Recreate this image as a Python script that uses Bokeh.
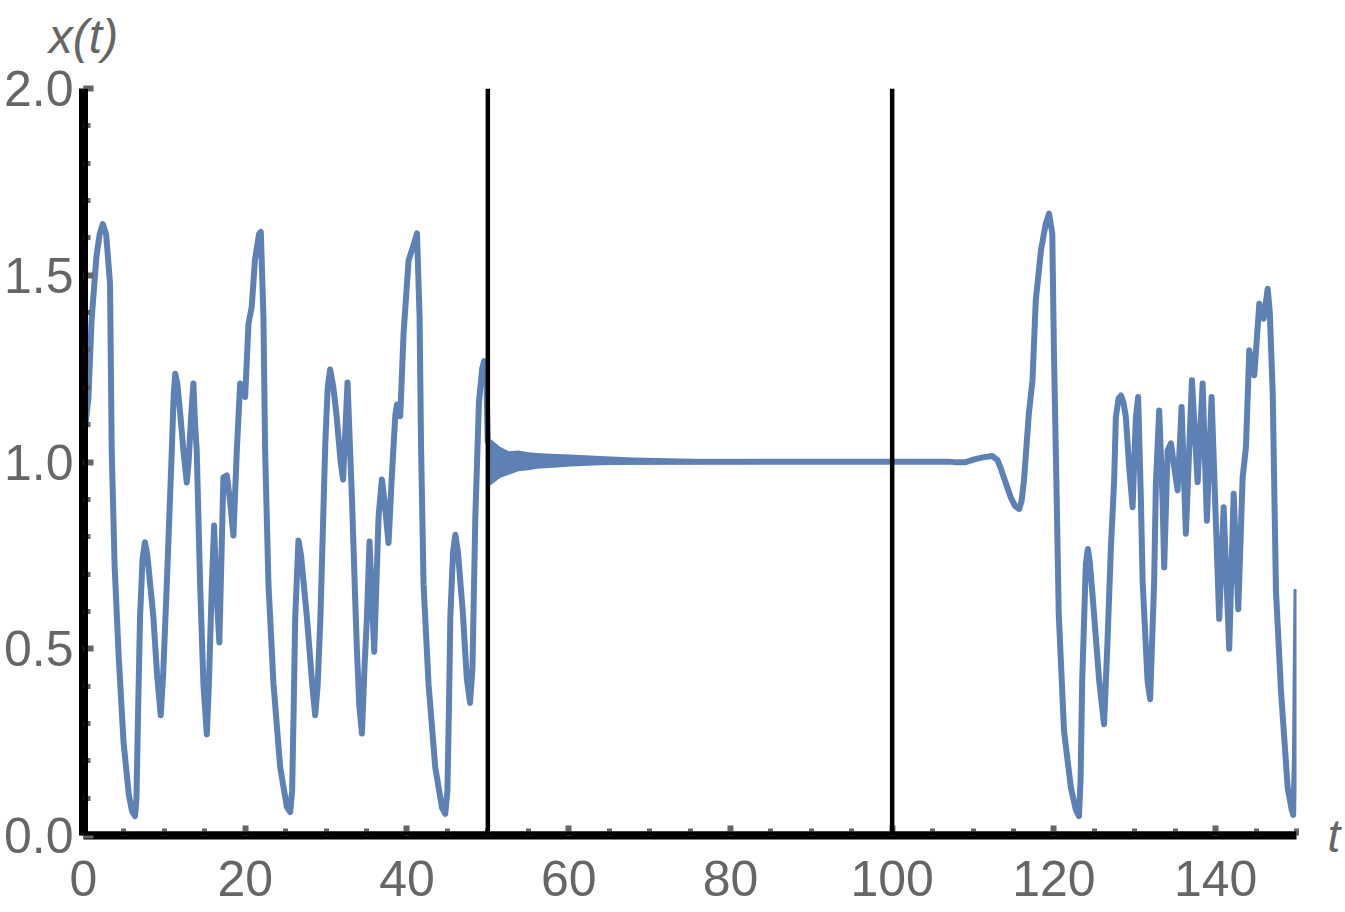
from bokeh.plotting import figure
from bokeh.models import (Range1d, Span, SingleIntervalTicker, FixedTicker, LinearAxis,
                          PrintfTickFormatter)
from bokeh.embed import file_html
from bokeh.resources import INLINE

# ---- data ----
# chaotic regime before the control is switched on (t = 0 .. 50)
t_before = [0.0, 0.6, 1.0, 1.6, 2.0, 2.38, 2.8, 3.28, 3.49, 3.85, 4.35, 4.95, 5.6, 6.0, 6.37,
            6.55, 6.75, 6.99, 7.3, 7.6, 7.9, 8.64, 9.1, 9.55, 9.85, 10.3, 10.92, 11.15, 11.35,
            11.6, 12.0, 12.35, 12.77, 13.0, 13.3, 13.59, 13.8, 14.0, 14.42, 14.83, 15.25,
            15.5, 15.87, 16.15, 16.45, 16.8, 17.3, 17.72, 18.1, 18.54, 18.96, 19.37, 19.99,
            20.4, 20.8, 21.2, 21.7, 21.93, 22.25, 22.46, 22.87, 23.49, 24.32, 25.15, 25.56,
            25.8, 26.0, 26.18, 26.58, 26.9, 27.62, 28.3, 28.65, 28.95, 29.3, 29.9, 30.2,
            30.5, 30.9, 31.3, 31.8, 32.1, 32.65, 33.2, 33.6, 33.81, 34.1, 34.43, 34.75,
            35.05, 35.37, 35.95, 36.49, 36.9, 37.2, 37.72, 38.1, 38.55, 38.76, 39.17, 39.58,
            40.2, 40.74, 41.24, 41.56, 41.75, 42.05, 42.67, 43.5, 44.33, 44.74, 45.0, 45.2,
            45.36, 45.7, 45.98, 46.3, 46.9, 47.4, 47.8, 48.1, 48.45, 48.9, 49.3, 49.55,
            49.8, 50.0]
x_before = [1.05, 1.17, 1.38, 1.55, 1.61, 1.637, 1.61, 1.478, 1.031, 0.72, 0.48, 0.25, 0.11, 0.065, 0.052,
            0.1, 0.33, 0.583, 0.74, 0.785, 0.75, 0.585, 0.43, 0.322, 0.43, 0.673, 1.031, 1.18, 1.236,
            1.21, 1.12, 1.031, 0.945, 1.0, 1.12, 1.21, 1.1, 1.031, 0.673, 0.405, 0.271,
            0.4, 0.673, 0.83, 0.65, 0.517, 0.959, 0.964, 0.9, 0.803, 1.031, 1.21, 1.174,
            1.37, 1.415, 1.54, 1.61, 1.616, 1.388, 1.031, 0.674, 0.407, 0.183, 0.076, 0.063,
            0.12, 0.35, 0.584, 0.79, 0.75, 0.586, 0.4, 0.322, 0.4, 0.586, 1.05, 1.2,
            1.248, 1.2, 1.123, 1.0, 0.953, 1.213, 0.9, 0.631, 0.497, 0.35, 0.273, 0.45,
            0.586, 0.787, 0.492, 0.855, 0.953, 0.9, 0.783, 0.95, 1.123, 1.154, 1.123, 1.344,
            1.54, 1.576, 1.612, 1.388, 1.031, 0.673, 0.405, 0.182, 0.075, 0.058, 0.12, 0.35,
            0.584, 0.76, 0.805, 0.76, 0.6, 0.42, 0.355, 0.45, 0.85, 1.16, 1.25, 1.27,
            1.24, 1.05]

# damped oscillation right after t = 50 (visible upper / lower extent)
osc_t = [50.0, 50.3, 51.55, 52.6, 53.8, 55.0, 56.1, 57.7, 60.2, 63.9, 68.0, 72.2, 78.4]
osc_hi = [1.066, 1.062, 1.04, 1.029, 1.031, 1.026, 1.024, 1.022, 1.02, 1.016, 1.012, 1.01, 1.007]
osc_lo = [0.934, 0.937, 0.958, 0.966, 0.975, 0.978, 0.982, 0.984, 0.988, 0.991, 0.993, 0.995, 0.995]

# controlled state and return to chaos after the control is switched off (t = 100)
t_after = [50.0, 107.0, 108.0, 109.0, 109.7, 110.5, 111.4, 112.4, 113.0, 113.4, 113.8, 114.65,
           115.2, 115.7, 116.0, 116.3, 116.9, 117.35, 117.76, 118.4, 119.0, 119.4, 119.8,
           120.0, 120.35, 120.6, 121.25, 122.1, 122.7, 123.1, 123.3, 123.5, 123.95, 124.2,
           124.45, 124.8, 125.6, 126.2, 126.6, 127.05, 127.45, 127.66, 128.0, 128.3, 128.6,
           128.9, 129.31, 129.73, 130.14, 130.42, 130.76, 130.97, 131.58, 131.9, 132.4,
           132.61, 133.02, 133.44, 133.64, 134.06, 134.47, 134.88, 135.3, 135.79, 136.32,
           137.07, 137.77, 138.39, 138.92, 139.5, 140.44, 140.99, 141.68, 142.23, 142.8,
           143.34, 143.75, 144.16, 144.78, 145.4, 145.94, 146.44, 146.7, 147.06, 147.46,
           148.08, 148.91, 149.4, 149.6, 149.8, 150.0]
x_after = [1.0, 1.001, 0.999, 0.999, 1.004, 1.009, 1.013, 1.016, 1.006, 0.985, 0.959, 0.906,
           0.882, 0.874, 0.895, 0.95, 1.129, 1.219, 1.433, 1.567, 1.639, 1.665, 1.612,
           1.3, 0.897, 0.593, 0.28, 0.128, 0.07, 0.052, 0.15, 0.415, 0.727, 0.767,
           0.73, 0.638, 0.414, 0.298, 0.503, 0.772, 0.95, 1.12, 1.17, 1.178, 1.16,
           1.12, 0.986, 0.879, 1.12, 1.174, 0.897, 0.682, 0.414, 0.365, 0.682,
           0.942, 1.138, 0.897, 0.718, 1.031, 1.05, 0.986, 0.924, 1.147, 0.808,
           1.219, 0.946, 1.21, 0.843, 1.174, 0.58, 0.879, 0.5, 0.915, 0.606,
           0.959, 1.04, 1.299, 1.232, 1.424, 1.384, 1.464, 1.4, 1.183, 0.655,
           0.388, 0.128, 0.07, 0.055, 0.2, 0.66]

switch_times = [50, 100]
x_major, x_minor_count = 20, 4
y_major, y_minor_count = 0.5, 5
y_title, x_title = "x(t)", "t"

CURVE = "#5E81B5"
GRAY = "#666666"
FONT = "Liberation Sans"

p = figure(width=1345, height=912, x_range=Range1d(0, 150), y_range=Range1d(0, 2),
           output_backend="svg", toolbar_location=None,
           min_border_left=83, min_border_right=49, min_border_top=88, min_border_bottom=77)
p.outline_line_color = None
p.grid.visible = False

p.xaxis.ticker = SingleIntervalTicker(interval=x_major, num_minor_ticks=x_minor_count)
p.yaxis.ticker = SingleIntervalTicker(interval=y_major, num_minor_ticks=y_minor_count)
p.yaxis.formatter = PrintfTickFormatter(format="%.1f")
for ax in (p.xaxis, p.yaxis):
    ax.axis_line_color = "black"
    ax.major_tick_line_color = GRAY
    ax.minor_tick_line_color = GRAY
    ax.major_tick_line_width = 6
    ax.minor_tick_line_width = 5
    ax.major_tick_in = 10
    ax.major_tick_out = 0
    ax.minor_tick_in = 7
    ax.minor_tick_out = 0
    ax.major_label_text_font = FONT
    ax.major_label_text_font_size = "50px"
    ax.major_label_text_color = GRAY
p.yaxis.axis_line_width = 9
p.xaxis.axis_line_width = 8
p.yaxis.major_label_standoff = 10
p.xaxis.major_label_standoff = 25

# axis titles: one-tick axes whose single label is the title, placed at the axis ends
top_ax = LinearAxis(ticker=FixedTicker(ticks=[0], minor_ticks=[]),
                    major_label_overrides={0: y_title},
                    axis_line_color=None, major_tick_line_color=None, minor_tick_line_color=None,
                    major_label_text_font=FONT, major_label_text_font_style="italic",
                    major_label_text_font_size="48px", major_label_text_color=GRAY,
                    major_label_standoff=20)
p.add_layout(top_ax, "above")
right_ax = LinearAxis(ticker=FixedTicker(ticks=[0], minor_ticks=[]),
                      major_label_overrides={0: x_title},
                      axis_line_color=None, major_tick_line_color=None, minor_tick_line_color=None,
                      major_label_text_font=FONT, major_label_text_font_style="italic",
                      major_label_text_font_size="46px", major_label_text_color=GRAY,
                      major_label_standoff=25)
p.add_layout(right_ax, "right")

p.varea(x=osc_t, y1=osc_lo, y2=osc_hi, fill_color=CURVE)
p.line(t_before, x_before, line_color=CURVE, line_width=6, line_join="round")
p.line(t_after, x_after, line_color=CURVE, line_width=6, line_join="round")

# black axis lines drawn over the inner part of the ticks, and the switching times
p.add_layout(Span(location=0, dimension="height", line_color="black", line_width=9))
p.add_layout(Span(location=0, dimension="width", line_color="black", line_width=8))
for ts in switch_times:
    p.add_layout(Span(location=ts, dimension="height", line_color="black", line_width=4.5))

open("out.html", "w").write(file_html(p, INLINE))
